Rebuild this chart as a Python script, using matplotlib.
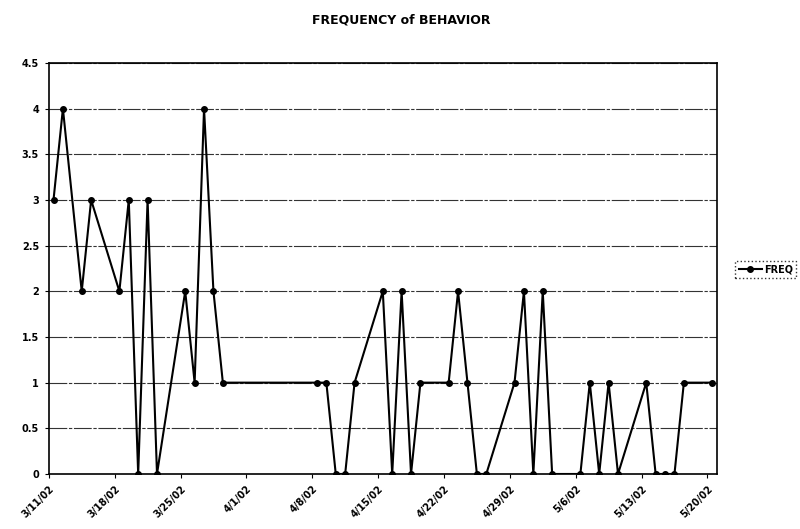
import numpy as np
import pandas as pd
import matplotlib
matplotlib.use("Agg")
import matplotlib.pyplot as plt
import matplotlib.dates as mdates

dates = ['3/11/02', '3/12/02', '3/14/02', '3/15/02', '3/18/02', '3/19/02', '3/20/02',
         '3/21/02', '3/22/02', '3/25/02', '3/26/02', '3/27/02', '3/28/02', '3/29/02',
         '4/8/02', '4/9/02', '4/10/02', '4/11/02', '4/12/02', '4/15/02', '4/16/02',
         '4/17/02', '4/18/02', '4/19/02', '4/22/02', '4/23/02', '4/24/02', '4/25/02',
         '4/26/02', '4/29/02', '4/30/02', '5/1/02', '5/2/02', '5/3/02', '5/6/02',
         '5/7/02', '5/8/02', '5/9/02', '5/10/02', '5/13/02', '5/14/02', '5/15/02',
         '5/16/02', '5/17/02', '5/20/02']
freq = [3, 4, 2, 3, 2, 3, 0, 3, 0, 2, 1, 4, 2, 1, 1, 1, 0, 0, 1, 2, 0, 2, 0, 1, 1, 2, 1,
        0, 0, 1, 2, 0, 2, 0, 0, 1, 0, 1, 0, 1, 0, 0, 0, 1, 1]

tick_labels = ['3/11/02', '3/18/02', '3/25/02', '4/1/02', '4/8/02', '4/15/02',
               '4/22/02', '4/29/02', '5/6/02', '5/13/02', '5/20/02']
y_ticks = [0, 0.5, 1, 1.5, 2, 2.5, 3, 3.5, 4, 4.5]

plt.rcParams['font.family'] = ['DejaVu Sans']

x = pd.to_datetime(dates, format='%m/%d/%y') + pd.Timedelta(hours=12)
ticks = pd.to_datetime(tick_labels, format='%m/%d/%y')

fig = plt.figure(figsize=(8, 5.29), dpi=100)
ax = fig.add_axes([0.061, 0.104, 0.835, 0.777])

# scanned-looking gridlines
for yv in y_ticks[1:]:
    ax.axhline(yv, color='#333333', lw=0.8, ls=(0, (16, 1.5, 3, 1.5)), zorder=1)

ax.plot(x, freq, color='black', lw=1.5, marker='o', markersize=4,
        label='FREQ', zorder=3)

ax.set_xlim(ticks[0], ticks[-1] + pd.Timedelta(days=1))
ax.set_ylim(0, 4.5)
ax.set_xticks(ticks)
ax.set_xticklabels(tick_labels, rotation=45, ha='right', rotation_mode='anchor',
                   fontsize=7, fontweight='bold')
ax.set_yticks(y_ticks)
ax.set_yticklabels(['0', '0.5', '1', '1.5', '2', '2.5', '3', '3.5', '4', '4.5'],
                   fontsize=7, fontweight='bold')
ax.tick_params(axis='both', direction='out', length=3, width=0.8, pad=4)

for s in ax.spines.values():
    s.set_linewidth(1.2)
    s.set_color('black')

fig.text(0.502, 0.962, 'FREQUENCY of BEHAVIOR', ha='center', va='center',
         fontsize=9, fontweight='bold')

leg = fig.legend(loc='center left', bbox_to_anchor=(0.919, 0.49),
                 bbox_transform=fig.transFigure, frameon=True,
                 fancybox=False, handlelength=2.4, borderpad=0.35,
                 handletextpad=0.2, borderaxespad=0.0,
                 prop={'weight': 'bold', 'size': 7})
leg.get_frame().set_edgecolor('black')
leg.get_frame().set_linestyle(':')
leg.get_frame().set_linewidth(1.0)

fig.savefig('out.png', dpi=100)
